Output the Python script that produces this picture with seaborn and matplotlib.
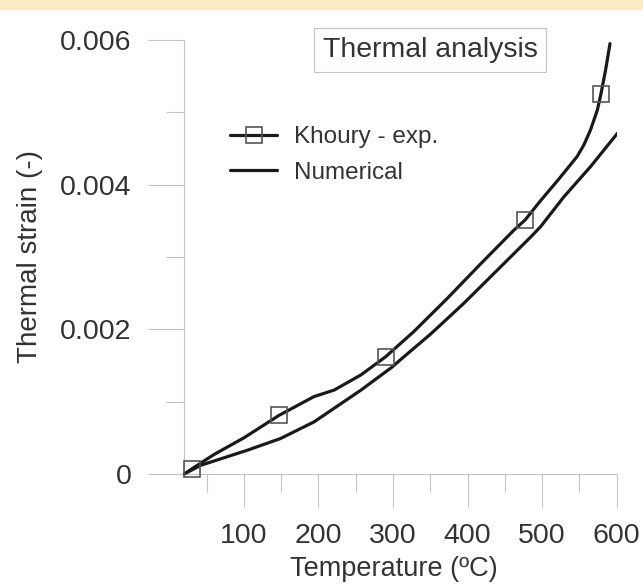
import matplotlib
matplotlib.use('Agg')
import matplotlib.pyplot as plt
import seaborn as sns
from matplotlib.lines import Line2D
from matplotlib.patches import Rectangle
from matplotlib.ticker import MultipleLocator

# Khoury - exp. (line with square markers at selected points)
temp_exp = [20, 30, 60, 100, 147, 194, 221, 257, 290, 328, 373, 418, 462, 477,
            498, 521, 547, 556, 565, 574, 579, 585, 591]
strain_exp = [0.0, 0.00007, 0.00027, 0.0005, 0.00081, 0.00107, 0.00116, 0.00137,
              0.00162, 0.00197, 0.00243, 0.00291, 0.00337, 0.00351, 0.00378,
              0.00406, 0.00439, 0.00455, 0.00476, 0.00503, 0.00526, 0.00558, 0.00595]
exp_marker_idx = [1, 4, 8, 13, 20]

# Numerical
temp_num = [20, 42, 105, 149, 194, 257, 299, 310, 351, 395, 440, 485, 498, 529, 565, 601]
strain_num = [0.0, 0.00012, 0.00033, 0.00049, 0.00072, 0.00116, 0.00148, 0.00158,
              0.00194, 0.00236, 0.00282, 0.00328, 0.00342, 0.00383, 0.00425, 0.00471]

x_ticks = [100, 200, 300, 400, 500, 600]
y_ticks = [0, 0.002, 0.004, 0.006]
y_tick_labels = ['0', '0.002', '0.004', '0.006']

sns.set_style('ticks')
plt.rcParams['font.family'] = ['Liberation Sans', 'DejaVu Sans']

text_col = '#333333'
grey = '#c4c4c4'
line_col = '#1a1a1a'

fig = plt.figure(figsize=(6.43, 5.88), dpi=100)
ax = fig.add_axes([0.2866, 0.1939, 0.6725, 0.7381])

# yellow strip at the very top
fig.add_artist(Rectangle((0, 1 - 9 / 588), 1, 9 / 588, transform=fig.transFigure,
                         color='#fdebc6', zorder=0))

sns.lineplot(x=temp_exp, y=strain_exp, ax=ax, color=line_col, lw=2.3, sort=False,
             estimator=None, marker='s', markevery=exp_marker_idx, ms=12,
             mfc='none', mec='#555555', mew=1.2, clip_on=False, zorder=3)
sns.lineplot(x=temp_num, y=strain_num, ax=ax, color=line_col, lw=2.3, sort=False,
             estimator=None)

ax.set_xlim(20, 600)
ax.set_ylim(0, 0.006)
ax.set_xticks(x_ticks)
ax.set_xticklabels([str(t) for t in x_ticks])
ax.set_yticks(y_ticks)
ax.set_yticklabels(y_tick_labels)
ax.xaxis.set_minor_locator(MultipleLocator(50))
ax.yaxis.set_minor_locator(MultipleLocator(0.001))

for side in ['top', 'right']:
    ax.spines[side].set_visible(False)
for side in ['left', 'bottom']:
    ax.spines[side].set_color(grey)
    ax.spines[side].set_linewidth(0.8)

ax.tick_params(axis='both', which='both', color=grey, width=0.8, direction='out',
               labelcolor=text_col, labelsize=20.5)
ax.tick_params(axis='x', which='major', length=24, pad=11)
ax.tick_params(axis='y', which='major', length=26, pad=12)
ax.tick_params(axis='both', which='minor', length=13)

ax.set_xlabel('Temperature (ºC)', fontsize=19.5, color=text_col)
ax.set_ylabel('Thermal strain (-)', fontsize=20, color=text_col)
ax.xaxis.set_label_coords(0.485, -0.189)
ax.yaxis.set_label_coords(-0.327, 0.5)

fig.text(0.669, 0.915, 'Thermal analysis', ha='center', va='center', fontsize=20.5,
         color=text_col,
         bbox=dict(boxstyle='square,pad=0.3', fc='white', ec=grey, lw=0.8))

handles = [
    Line2D([], [], color=line_col, lw=2.3, marker='s', ms=12, mfc='none',
           mec='#555555', mew=1.2),
    Line2D([], [], color=line_col, lw=2.3),
]
ax.legend(handles, ['Khoury - exp.', 'Numerical'], loc='upper left',
          bbox_to_anchor=(0.3577, 0.785), bbox_transform=fig.transFigure,
          frameon=False, fontsize=17.5, handlelength=1.95, handletextpad=0.7,
          labelspacing=0.54, borderaxespad=0, borderpad=0, labelcolor=text_col)

fig.savefig('out.png', dpi=100)
